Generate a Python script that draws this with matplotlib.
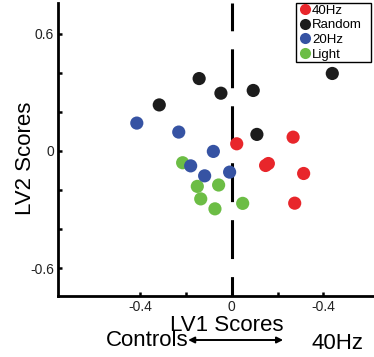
import matplotlib
matplotlib.use("Agg")
import matplotlib.pyplot as plt
from matplotlib.lines import Line2D

plt.rcParams['font.family'] = ['Liberation Sans', 'DejaVu Sans']
plt.rcParams['lines.scale_dashes'] = False

# LV1 / LV2 scores per group
hz40_x = [0.022, 0.268, 0.148, 0.160, 0.314, 0.275]
hz40_y = [0.036, 0.070, -0.075, -0.065, -0.116, -0.268]

random_x = [-0.142, -0.047, 0.094, -0.316, 0.110, 0.439]
random_y = [0.370, 0.295, 0.309, 0.235, 0.084, 0.396]

hz20_x = [-0.414, -0.231, -0.080, -0.179, -0.118, -0.009]
hz20_y = [0.142, 0.096, -0.003, -0.077, -0.128, -0.109]

light_x = [-0.214, -0.150, -0.057, -0.135, -0.073, 0.048]
light_y = [-0.061, -0.182, -0.175, -0.246, -0.297, -0.269]

labels = ['40Hz', 'Random', '20Hz', 'Light']
colors = ['#e8262b', '#1c1c1c', '#3653a3', '#6cbd45']

x_ticks = [-0.4, -0.2, 0, 0.2, 0.4]
x_ticklabels = ['-0.4', '', '0', '', '-0.4']
y_ticks = [-0.6, -0.4, -0.2, 0, 0.2, 0.4, 0.6]
y_ticklabels = ['-0.6', '', '', '0', '', '', '0.6']

fig = plt.figure(figsize=(3.74, 3.57), dpi=100)
ax = fig.add_axes([0.155, 0.171, 0.845, 0.8207])

xmin, xmax = -0.758, 0.621
ymin, ymax = -0.743, 0.757

# dashed zero line
ax.plot([0, 0], [ymax, ymin], color='black', lw=2.2, linestyle=(8, (28, 13)),
        zorder=1, dash_capstyle='butt')

ms = 90
ax.scatter(light_x, light_y, s=ms, color=colors[3], edgecolor='none', zorder=3)
ax.scatter(hz40_x, hz40_y, s=ms, color=colors[0], edgecolor='none', zorder=3)
ax.scatter(random_x, random_y, s=ms, color=colors[1], edgecolor='none', zorder=3)
ax.scatter(hz20_x, hz20_y, s=ms, color=colors[2], edgecolor='none', zorder=3)

ax.set_xlim(xmin, xmax)
ax.set_ylim(ymin, ymax)
ax.set_xticks(x_ticks)
ax.set_xticklabels(x_ticklabels)
ax.set_yticks(y_ticks)
ax.set_yticklabels(y_ticklabels)
ax.tick_params(direction='in', length=3, width=1.8, labelsize=10,
               labelcolor='#222222', pad=3)

for side in ['top', 'right']:
    ax.spines[side].set_visible(False)
for side in ['left', 'bottom']:
    ax.spines[side].set_linewidth(2.0)

handles = [Line2D([], [], marker='o', ls='none', markersize=8,
                  markerfacecolor=c, markeredgecolor='none') for c in colors]
leg = ax.legend(handles, labels, loc='lower left', mode='expand',
                bbox_to_anchor=(296 / 374, 295 / 357, 75 / 374, 62 / 357),
                bbox_transform=fig.transFigure,
                fontsize=9.5, frameon=True, fancybox=False, framealpha=1,
                edgecolor='black', handlelength=1.2, handletextpad=-0.1,
                borderpad=0.1, labelspacing=0.18, borderaxespad=0)
leg.get_frame().set_linewidth(1.0)

fig.text(0.0695, 0.557, 'LV2 Scores', rotation=90, fontsize=16,
         ha='center', va='center')
fig.text(0.607, 0.089, 'LV1 Scores', fontsize=16, ha='center', va='center')
fig.text(0.393, 0.046, 'Controls', fontsize=16, ha='center', va='center')
fig.text(0.902, 0.038, '40Hz', fontsize=16, ha='center', va='center')

ax.annotate('', xy=(0.757, 0.0476), xytext=(0.503, 0.0476),
            xycoords='figure fraction', textcoords='figure fraction',
            arrowprops=dict(arrowstyle='<|-|>', color='black', lw=1.4,
                            mutation_scale=9, shrinkA=0, shrinkB=0))

fig.savefig('out.png', dpi=100)
